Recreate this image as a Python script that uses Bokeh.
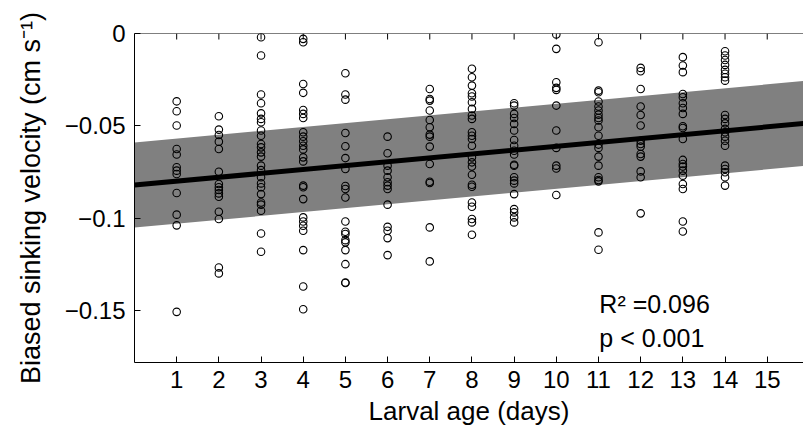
from bokeh.plotting import figure
from bokeh.models import FixedTicker, Label, Range1d, Span
from bokeh.embed import file_html
from bokeh.resources import INLINE

# ---- data ----
days = list(range(1, 15))
day01 = [-0.0367, -0.0421, -0.0498, -0.0625, -0.0655, -0.0724, -0.0742, -0.0760, -0.0863, -0.0980, -0.1038, -0.1506]
day02 = [-0.0448, -0.0520, -0.0549, -0.0585, -0.0625, -0.0748, -0.0814, -0.0832, -0.0847, -0.0865, -0.0883, -0.0964, -0.1004, -0.1266, -0.1298]
day03 = [-0.0020, -0.0119, -0.0330, -0.0377, -0.0432, -0.0462, -0.0480, -0.0525, -0.0553, -0.0598, -0.0616, -0.0643,
         -0.0666, -0.0715, -0.0739, -0.0778, -0.0811, -0.0832, -0.0869, -0.0914, -0.0926, -0.0959, -0.1082, -0.1181]
day04 = [-0.0029, -0.0047, -0.0273, -0.0321, -0.0414, -0.0435, -0.0457, -0.0534, -0.0558, -0.0583, -0.0607, -0.0627,
         -0.0670, -0.0692, -0.0823, -0.0832, -0.0896, -0.0995, -0.1017, -0.1040, -0.1067, -0.1172, -0.1369, -0.1492]
day05 = [-0.0215, -0.0330, -0.0358, -0.0538, -0.0610, -0.0674, -0.0733, -0.0825, -0.0841, -0.0887, -0.1017, -0.1073,
         -0.1085, -0.1118, -0.1130, -0.1172, -0.1248, -0.1347, -0.1350]
day06 = [-0.0558, -0.0648, -0.0715, -0.0742, -0.0778, -0.0805, -0.0823, -0.0841, -0.0926, -0.1046, -0.1067, -0.1107, -0.1199]
day07 = [-0.0300, -0.0354, -0.0363, -0.0417, -0.0468, -0.0507, -0.0547, -0.0558, -0.0612, -0.0706, -0.0802, -0.0809, -0.1049, -0.1233]
day08 = [-0.0191, -0.0237, -0.0282, -0.0323, -0.0341, -0.0372, -0.0408, -0.0444, -0.0462, -0.0534, -0.0553, -0.0571,
         -0.0607, -0.0670, -0.0697, -0.0720, -0.0764, -0.0818, -0.0829, -0.0914, -0.0937, -0.1004, -0.1022, -0.1089]
day09 = [-0.0377, -0.0390, -0.0435, -0.0457, -0.0489, -0.0525, -0.0576, -0.0607, -0.0634, -0.0655, -0.0710, -0.0715,
         -0.0778, -0.0796, -0.0811, -0.0869, -0.0950, -0.0968, -0.0995, -0.1022]
day10 = [-0.0005, -0.0083, -0.0264, -0.0294, -0.0305, -0.0390, -0.0525, -0.0619, -0.0715, -0.0730, -0.0874]
day11 = [-0.0047, -0.0309, -0.0318, -0.0368, -0.0395, -0.0417, -0.0439, -0.0457, -0.0471, -0.0507, -0.0553, -0.0601,
         -0.0619, -0.0666, -0.0715, -0.0778, -0.0793, -0.0800, -0.1076, -0.1170]
day12 = [-0.0186, -0.0204, -0.0300, -0.0395, -0.0441, -0.0498, -0.0580, -0.0598, -0.0612, -0.0652, -0.0666, -0.0746, -0.0778, -0.0973]
day13 = [-0.0128, -0.0173, -0.0209, -0.0327, -0.0345, -0.0377, -0.0403, -0.0435, -0.0502, -0.0511, -0.0571, -0.0684,
         -0.0706, -0.0720, -0.0742, -0.0769, -0.0814, -0.0841, -0.1017, -0.1071]
day14 = [-0.0096, -0.0119, -0.0143, -0.0170, -0.0197, -0.0218, -0.0237, -0.0255, -0.0441, -0.0462, -0.0486, -0.0516,
         -0.0534, -0.0558, -0.0580, -0.0607, -0.0715, -0.0733, -0.0751, -0.0778, -0.0823]

fit_intercept = -0.082
fit_slope = 0.0021
band_halfwidth = 0.023
fit_x = [0, 16]

x_ticks = list(range(1, 16))
y_ticks = [0, -0.05, -0.1, -0.15]
y_tick_labels = ["0", "\u22120.05", "\u22120.1", "\u22120.15"]
annot_r2 = "R\u00b2 =0.096"
annot_p = "p < 0.001"

# ---- build ----
per_day = [day01, day02, day03, day04, day05, day06, day07, day08, day09, day10, day11, day12, day13, day14]
xs, ys = [], []
for d, vals in zip(days, per_day):
    xs += [d] * len(vals)
    ys += vals

fit_y = [fit_intercept + fit_slope * x for x in fit_x]
band_lo = [v - band_halfwidth for v in fit_y]
band_hi = [v + band_halfwidth for v in fit_y]

FONT = "Liberation Sans"
Y0, Y1 = -0.178, 0

p = figure(width=803, height=438, output_backend="svg", toolbar_location=None,
           x_range=Range1d(0, 15.86), y_range=Range1d(Y0, Y1),
           min_border_left=134, min_border_right=0, min_border_top=33, min_border_bottom=76)
p.outline_line_color = None
p.grid.visible = False
p.background_fill_color = "white"
p.border_fill_color = "white"

p.varea(x=fit_x, y1=band_lo, y2=band_hi, fill_color="#808080", fill_alpha=1.0)
p.scatter(xs, ys, marker="circle", size=7.5, fill_color=None, line_color="black", line_width=1.1)
p.line(fit_x, fit_y, line_color="black", line_width=5)

# top frame edge with inward ticks (MATLAB box style)
p.add_layout(Span(location=Y1, dimension="width", line_color="black", line_width=1))
tick_len = (Y1 - Y0) * 6 / 329
p.segment(x0=x_ticks, y0=[Y1] * len(x_ticks), x1=x_ticks, y1=[Y1 - tick_len] * len(x_ticks),
          line_color="black", line_width=1)

for ax in p.xaxis:
    ax.ticker = FixedTicker(ticks=x_ticks)
    ax.minor_tick_line_color = None
    ax.major_tick_in = 6
    ax.major_tick_out = 0
    ax.major_label_text_font = FONT
    ax.major_label_text_font_size = "24px"
    ax.major_label_text_color = "black"
    ax.major_label_standoff = 8
    ax.axis_label = "Larval age (days)"
    ax.axis_label_text_font = FONT
    ax.axis_label_text_font_size = "26px"
    ax.axis_label_text_font_style = "normal"
    ax.axis_label_text_color = "black"
    ax.axis_label_standoff = 5
    ax.axis_line_color = "black"

for ax in p.yaxis:
    ax.ticker = FixedTicker(ticks=y_ticks)
    ax.major_label_overrides = dict(zip(y_ticks, y_tick_labels))
    ax.minor_tick_line_color = None
    ax.major_tick_in = 6
    ax.major_tick_out = 0
    ax.major_label_text_font = FONT
    ax.major_label_text_font_size = "24px"
    ax.major_label_text_color = "black"
    ax.major_label_standoff = 9
    ax.axis_label = "Biased sinking velocity (cm s\u207b\u00b9)"
    ax.axis_label_text_font = FONT
    ax.axis_label_text_font_size = "27px"
    ax.axis_label_text_font_style = "normal"
    ax.axis_label_text_color = "black"
    ax.axis_label_standoff = 16
    ax.axis_line_color = "black"

for txt, yv in [(annot_r2, -0.1463), (annot_p, -0.1645)]:
    p.add_layout(Label(x=11.02, y=yv, text=txt, text_font=FONT, text_font_size="25px",
                       text_color="black", text_baseline="alphabetic", text_align="left"))

open("out.html", "w").write(file_html(p, INLINE))
